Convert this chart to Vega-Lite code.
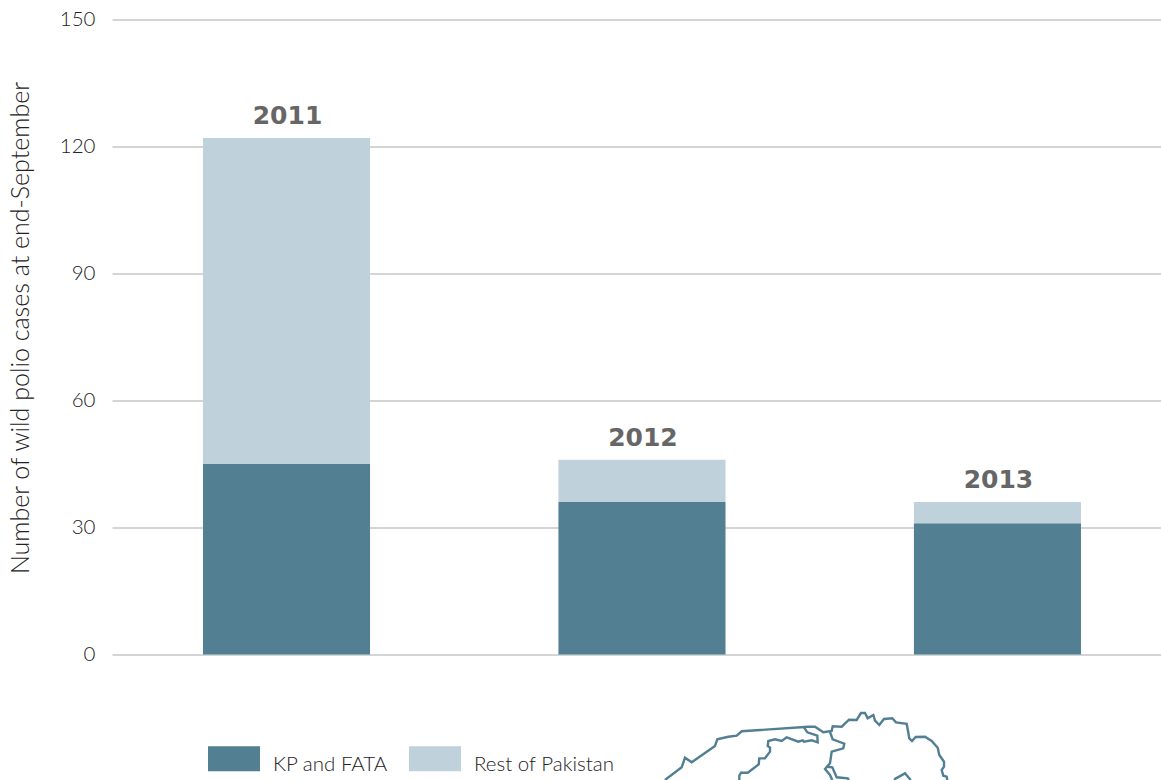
{
"$schema":"https://vega.github.io/schema/vega-lite/v6.json",
"autosize":{"type":"none"},
"padding":{"left":112,"top":19.5,"right":0,"bottom":125.5},
"width":1049,"height":635,
"background":"white",
"config":{"view":{"stroke":null},"font":"Lato"},
"layer":[
{"data":{"values":[
{"year":"2011","group":"KP and FATA","cases":45},
{"year":"2011","group":"Rest of Pakistan","cases":77},
{"year":"2012","group":"KP and FATA","cases":36},
{"year":"2012","group":"Rest of Pakistan","cases":10},
{"year":"2013","group":"KP and FATA","cases":31},
{"year":"2013","group":"Rest of Pakistan","cases":5}]},
"mark":{"type":"bar"},
"encoding":{
"x":{"field":"year","type":"nominal","axis":null,"scale":{"type":"band","paddingInner":0.53,"paddingOuter":0.2405,"align":0.532}},
"y":{"field":"cases","type":"quantitative","stack":"zero","scale":{"domain":[0,150],"nice":false},
"axis":{"title":"Number of wild polio cases at end-September","titleY":308,"values":[0,30,60,90,120,150],"domain":false,"ticks":false,"grid":true,"gridColor":"#D3D6D7","gridWidth":2.2,"gridOpacity":1,"labelFontSize":20.5,"labelFontWeight":300,"labelColor":"#222222","labelPadding":17,"titleFontSize":25,"titleFontWeight":300,"titleColor":"#222222","titlePadding":26,"labelFont":"Lato","titleFont":"Lato"}},
"color":{"field":"group","type":"nominal","scale":{"domain":["KP and FATA","Rest of Pakistan"],"range":["#527F92","#BFD1DB"]},
"legend":{"title":null,"orient":"none","direction":"horizontal","legendX":96,"legendY":713,"symbolType":"M-1,-0.48H1V0.48H-1Z","symbolSize":2704,"symbolStrokeWidth":0,"symbolOpacity":1,"labelFontSize":20.5,"labelFontWeight":300,"labelFont":"Lato","labelColor":"#222222","labelOffset":13,"columnPadding":21,"encode":{"labels":{"update":{"dy":{"value":6}}}}}},
"order":{"field":"group","type":"nominal","sort":"ascending"}
}},
{"data":{"values":[
{"year":"2011","total":122},{"year":"2012","total":46},{"year":"2013","total":36}]},
"mark":{"type":"text","fontSize":25,"fontWeight":"bold","color":"#666666","dy":-9,"dx":1,"baseline":"bottom","font":"DejaVu Sans"},
"encoding":{
"x":{"field":"year","type":"nominal","axis":null,"scale":{"type":"band","paddingInner":0.53,"paddingOuter":0.2405,"align":0.532}},
"y":{"field":"total","type":"quantitative","scale":{"domain":[0,150],"nice":false}},
"text":{"field":"year"}
}},
{"data":{"values":[
{"path":"a","seq":1,"mx":553,"my":-29.65},{"path":"a","seq":2,"mx":569.7,"my":-26.65},{"path":"a","seq":3,"mx":573,"my":-24.38},{"path":"a","seq":4,"mx":579.7,"my":-25.46},{"path":"a","seq":5,"mx":603,"my":-21.61},{"path":"a","seq":6,"mx":605.3,"my":-20.03},{"path":"a","seq":7,"mx":616.3,"my":-19.42},{"path":"a","seq":8,"mx":624.7,"my":-19.18},{"path":"a","seq":9,"mx":629.7,"my":-18.14},{"path":"a","seq":10,"mx":696.3,"my":-17.06},{"path":"a","seq":11,"mx":703,"my":-17.06},{"path":"a","seq":12,"mx":711.3,"my":-18.38},{"path":"a","seq":13,"mx":719.7,"my":-18.07},{"path":"a","seq":14,"mx":720.7,"my":-16.96},{"path":"a","seq":15,"mx":729.7,"my":-17.06},{"path":"a","seq":16,"mx":737,"my":-15.40},{"path":"a","seq":17,"mx":744.7,"my":-15.47},{"path":"a","seq":18,"mx":749,"my":-13.82},{"path":"a","seq":19,"mx":753,"my":-13.82},{"path":"a","seq":20,"mx":755.7,"my":-15.07},{"path":"a","seq":21,"mx":761.3,"my":-14.29},{"path":"a","seq":22,"mx":763,"my":-15.64},{"path":"a","seq":23,"mx":767.3,"my":-16.65},{"path":"a","seq":24,"mx":772,"my":-15.24},{"path":"a","seq":25,"mx":780.3,"my":-15.07},{"path":"a","seq":26,"mx":784,"my":-16.02},{"path":"a","seq":27,"mx":794.7,"my":-16.35},{"path":"a","seq":28,"mx":797.3,"my":-19.80},{"path":"a","seq":29,"mx":800,"my":-20.43},{"path":"a","seq":30,"mx":803.7,"my":-19.49},{"path":"a","seq":31,"mx":813,"my":-19.42},{"path":"a","seq":32,"mx":819.7,"my":-20.43},{"path":"a","seq":33,"mx":825.7,"my":-22.02},{"path":"a","seq":34,"mx":827.3,"my":-23.74},{"path":"a","seq":35,"mx":832,"my":-25.32},{"path":"a","seq":36,"mx":832,"my":-26.50},{"path":"a","seq":37,"mx":829.7,"my":-27.28},{"path":"a","seq":38,"mx":831.3,"my":-28.63},{"path":"a","seq":39,"mx":834.7,"my":-28.87},{"path":"a","seq":40,"mx":835.3,"my":-29.65},
{"path":"b","seq":1,"mx":718,"my":-18.3},{"path":"b","seq":2,"mx":720.7,"my":-20.03},{"path":"b","seq":3,"mx":732.3,"my":-21.07},{"path":"b","seq":4,"mx":731.3,"my":-22.16},{"path":"b","seq":5,"mx":719.7,"my":-22.96},{"path":"b","seq":6,"mx":718,"my":-25.7},{"path":"b","seq":7,"mx":713,"my":-27.05},{"path":"b","seq":8,"mx":718,"my":-28.46},{"path":"b","seq":9,"mx":720.3,"my":-29.65},
{"path":"c","seq":1,"mx":714.7,"my":-26.5},{"path":"c","seq":2,"mx":720.3,"my":-26.65},{"path":"c","seq":3,"mx":724.7,"my":-29},{"path":"c","seq":4,"mx":735.7,"my":-29.25},{"path":"c","seq":5,"mx":737,"my":-29.65},
{"path":"d","seq":1,"mx":782.5,"my":-29.65},{"path":"d","seq":2,"mx":783,"my":-29.4},{"path":"d","seq":3,"mx":793,"my":-28.07},{"path":"d","seq":4,"mx":798.7,"my":-29.65},
{"path":"e","seq":1,"mx":692,"my":-17.2},{"path":"e","seq":2,"mx":695.3,"my":-18.38},{"path":"e","seq":3,"mx":705.3,"my":-19.18},{"path":"e","seq":4,"mx":705.7,"my":-20.74},{"path":"e","seq":5,"mx":699.7,"my":-20.27},{"path":"e","seq":6,"mx":692,"my":-20.6},{"path":"e","seq":7,"mx":690.7,"my":-20.27},{"path":"e","seq":8,"mx":686.3,"my":-20.6},{"path":"e","seq":9,"mx":674.7,"my":-19.56},{"path":"e","seq":10,"mx":669.7,"my":-20.43},{"path":"e","seq":11,"mx":663,"my":-20.03},{"path":"e","seq":12,"mx":656.3,"my":-20.43},{"path":"e","seq":13,"mx":655.7,"my":-21.61},{"path":"e","seq":14,"mx":658,"my":-22.02},{"path":"e","seq":15,"mx":658,"my":-22.96},{"path":"e","seq":16,"mx":653,"my":-24.53},{"path":"e","seq":17,"mx":647.3,"my":-24.53},{"path":"e","seq":18,"mx":646.7,"my":-25.96},{"path":"e","seq":19,"mx":635.7,"my":-27.94},{"path":"e","seq":20,"mx":629,"my":-27.94},{"path":"e","seq":21,"mx":627.3,"my":-28.63},{"path":"e","seq":22,"mx":627.3,"my":-29.65}
]},
"mark":{"type":"line","color":"#527F92","strokeWidth":2.4,"clip":false,"interpolate":"linear"},
"encoding":{
"x":{"field":"mx","type":"quantitative","axis":null,"scale":{"domain":[0,1049],"nice":false,"zero":false}},
"y":{"field":"my","type":"quantitative","scale":{"domain":[0,150],"nice":false}},
"detail":{"field":"path"},
"order":{"field":"seq","type":"quantitative"}
}}
],
"resolve":{"scale":{"x":"independent"}}
}
